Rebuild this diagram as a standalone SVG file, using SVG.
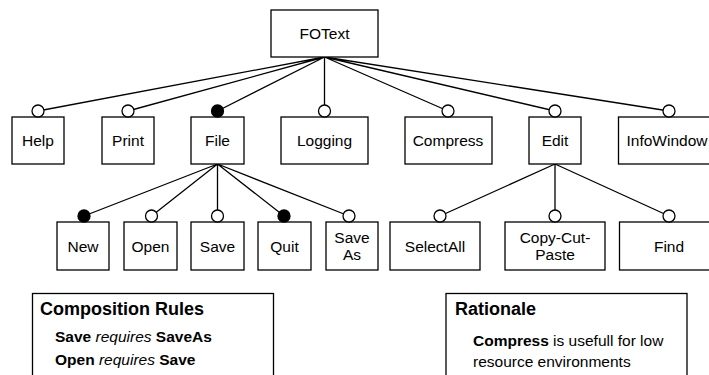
<svg xmlns="http://www.w3.org/2000/svg" width="709" height="375" viewBox="0 0 709 375">
<style>
.box{fill:#fff;stroke:#000;stroke-width:1.3}
.lbl{font-family:"Liberation Sans",Arial,sans-serif;font-size:15.5px;fill:#000;text-anchor:middle}
.ln{stroke:#000;stroke-width:1.3;fill:none}
.opt{fill:#fff;stroke:#000;stroke-width:1.3}
.man{fill:#000;stroke:#000;stroke-width:1.3}
.ttl{font-family:"Liberation Sans",Arial,sans-serif;font-size:18px;font-weight:bold;fill:#000}
.txt{font-family:"Liberation Sans",Arial,sans-serif;font-size:15.5px;fill:#000}
.b{font-weight:bold}
.i{font-style:italic}
</style>
<rect width="709" height="375" fill="#fff"/>
<g id="connectors">
<path class="ln" d="M324.5 57 L38 111 M324.5 57 L128 111 M324.5 57 L217.5 111 M324.5 57 L324.5 111 M324.5 57 L448 111 M324.5 57 L555 111 M324.5 57 L669 111"/>
<path class="ln" d="M217.5 164 L84 216 M217.5 164 L151.5 216 M217.5 164 L217.5 216 M217.5 164 L284 216 M217.5 164 L349 216"/>
<path class="ln" d="M555 164 L440 216 M555 164 L555 216 M555 164 L669 216"/>
</g>
<g id="FOText"><rect class="box" x="271" y="10" width="107" height="47"/><text class="lbl" x="324.5" y="39">FOText</text></g>
<g id="Help"><rect class="box" x="12" y="117" width="52" height="47"/><text class="lbl" x="38" y="146">Help</text><circle class="opt" cx="38" cy="111" r="6"/></g>
<g id="Print"><rect class="box" x="102" y="117" width="52" height="47"/><text class="lbl" x="128" y="146">Print</text><circle class="opt" cx="128" cy="111" r="6"/></g>
<g id="File"><rect class="box" x="191" y="117" width="53" height="47"/><text class="lbl" x="217.5" y="146">File</text><circle class="man" cx="217.5" cy="111" r="6"/></g>
<g id="Logging"><rect class="box" x="281" y="117" width="87" height="47"/><text class="lbl" x="324.5" y="146">Logging</text><circle class="opt" cx="324.5" cy="111" r="6"/></g>
<g id="Compress"><rect class="box" x="405" y="117" width="87" height="47"/><text class="lbl" x="448" y="146">Compress</text><circle class="opt" cx="448" cy="111" r="6"/></g>
<g id="Edit"><rect class="box" x="529" y="117" width="52" height="47"/><text class="lbl" x="555" y="146">Edit</text><circle class="opt" cx="555" cy="111" r="6"/></g>
<g id="InfoWindow"><rect class="box" x="618.5" y="117" width="101" height="47"/><text class="lbl" x="667" y="146">InfoWindow</text><circle class="opt" cx="669" cy="111" r="6"/></g>
<g id="New"><rect class="box" x="57" y="222" width="52" height="48"/><text class="lbl" x="83" y="251.5">New</text><circle class="man" cx="84" cy="216" r="6"/></g>
<g id="Open"><rect class="box" x="124" y="222" width="53" height="48"/><text class="lbl" x="150.5" y="251.5">Open</text><circle class="opt" cx="151.5" cy="216" r="6"/></g>
<g id="Save"><rect class="box" x="191" y="222" width="53" height="48"/><text class="lbl" x="217.5" y="251.5">Save</text><circle class="opt" cx="217.5" cy="216" r="6"/></g>
<g id="Quit"><rect class="box" x="258" y="222" width="53" height="48"/><text class="lbl" x="284.5" y="251.5">Quit</text><circle class="man" cx="284" cy="216" r="6"/></g>
<g id="SaveAs"><rect class="box" x="326" y="222" width="52" height="48"/><text class="lbl" x="352" y="243">Save</text><text class="lbl" x="352" y="260">As</text><circle class="opt" cx="349" cy="216" r="6"/></g>
<g id="SelectAll"><rect class="box" x="390" y="222" width="90" height="48"/><text class="lbl" x="435" y="251.5">SelectAll</text><circle class="opt" cx="440" cy="216" r="6"/></g>
<g id="CopyCutPaste"><rect class="box" x="505" y="222" width="100" height="48"/><text class="lbl" x="555" y="243">Copy-Cut-</text><text class="lbl" x="555" y="260">Paste</text><circle class="opt" cx="555" cy="216" r="6"/></g>
<g id="Find"><rect class="box" x="619.5" y="222" width="100" height="48"/><text class="lbl" x="669" y="251.5">Find</text><circle class="opt" cx="669" cy="216" r="6"/></g>
<g id="CompositionRules">
<rect class="box" x="32.5" y="293.5" width="241" height="100"/>
<text class="ttl" x="40" y="314.5">Composition Rules</text>
<text class="txt" x="55" y="341.5"><tspan class="b">Save</tspan> <tspan class="i">requires</tspan> <tspan class="b">SaveAs</tspan></text>
<text class="txt" x="55" y="365"><tspan class="b">Open</tspan> <tspan class="i">requires</tspan> <tspan class="b">Save</tspan></text>
</g>
<g id="Rationale">
<rect class="box" x="446" y="293.5" width="241" height="100"/>
<text class="ttl" x="455" y="314.5">Rationale</text>
<text class="txt" x="473" y="345.5"><tspan class="b">Compress</tspan> is usefull for low</text>
<text class="txt" x="473" y="366.5">resource environments</text>
</g>
</svg>
